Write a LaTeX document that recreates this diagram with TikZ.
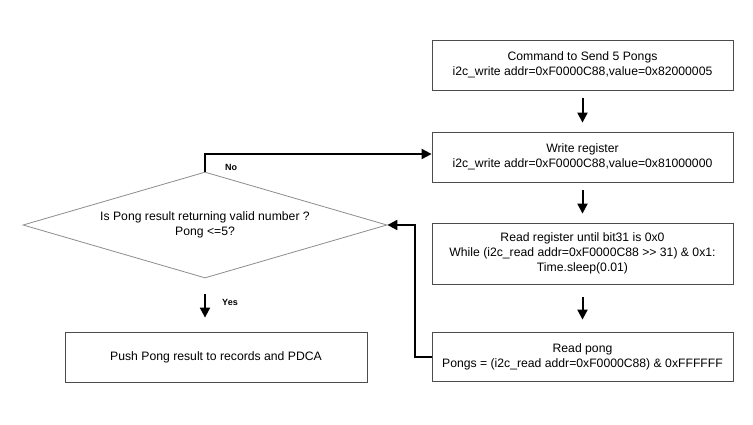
\documentclass[tikz,border=0pt]{standalone}
\usepackage{fontspec}
\setmainfont{Liberation Sans}
\usetikzlibrary{arrows.meta,shapes.geometric}
\begin{document}
\begin{tikzpicture}[x=1pt,y=-1pt,
  box/.style={draw=black!70,line width=0.8pt,minimum width=301pt,minimum height=50pt,align=center,inner sep=0pt,font=\fontsize{12.2}{15}\selectfont},
  dec/.style={draw=black!45,line width=0.8pt,diamond,minimum width=364pt,minimum height=106pt,inner sep=0pt,align=center,font=\fontsize{12.2}{15}\selectfont,aspect=3.43},
  flow/.style={line width=2pt,-{Triangle[length=10pt,width=10pt]}},
  lbl/.style={font=\bfseries\fontsize{9}{10}\selectfont}]
\useasboundingbox (0,0) rectangle (753,425);
\node[box] (b1) at (582.5,65) {Command to Send 5 Pongs\\i2c\_write addr=0xF0000C88,value=0x82000005};
\node[box] (b2) at (582.5,157) {Write register\\i2c\_write addr=0xF0000C88,value=0x81000000};
\node[box,minimum height=61pt] (b3) at (582.5,253.5) {Read register until bit31 is 0x0\\While (i2c\_read addr=0xF0000C88 >{}> 31) \& 0x1:\\Time.sleep(0.01)};
\node[box,minimum height=49pt] (b4) at (582.5,356.5) {Read pong\\Pongs = (i2c\_read addr=0xF0000C88) \& 0xFFFFFF};
\node[dec] (d) at (205,225) {Is Pong result returning valid number ?\\Pong <=5?};
\node[box,minimum width=302pt] (b5) at (216,357) {Push Pong result to records and PDCA};
\draw[flow,shorten <=8pt,shorten >=9pt] (b1) -- (b2);
\draw[flow,shorten <=8pt,shorten >=9pt] (b2) -- (b3);
\draw[flow,shorten <=13pt,shorten >=12pt] (b3) -- (b4);
\draw[flow,shorten <=16pt,shorten >=14pt] (d.south) -- (d.south |- b5.north);
\coordinate (nc) at (205,154);
\coordinate (rc) at (415,356.5);
\draw[flow] (d.north) -- (nc) -- (nc -| b2.west);
\draw[flow] (b4.west) -- (rc) |- (d.east);
\node[lbl] (no) at (231,167) {No};
\node[lbl] (yes) at (230,302) {Yes};
\end{tikzpicture}
\end{document}
